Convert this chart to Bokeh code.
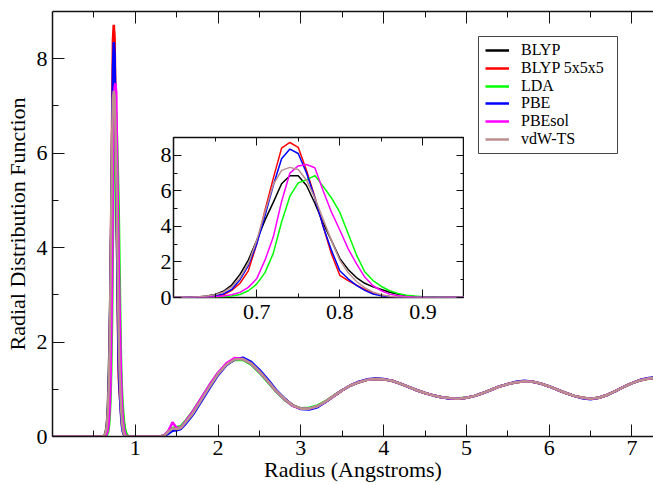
from bokeh.plotting import figure
from bokeh.models import (FixedTicker, LinearAxis, Legend, LegendItem, Range1d,
                          BoxAnnotation)
from bokeh.layouts import column
from bokeh.embed import file_html
from bokeh.resources import INLINE

FONT = "Liberation Serif"

series_names = ["BLYP", "BLYP 5x5x5", "LDA", "PBE", "PBEsol", "vdW-TS"]
series_colors = ["#000000", "#ff0000", "#00ff00", "#0000ff", "#ff00ff", "#bc8f8f"]

# first-peak region (shown in the inset and in the main plot)
peak_r = [0.60, 0.61, 0.62, 0.63, 0.64, 0.65, 0.66, 0.67, 0.68, 0.69,
          0.70, 0.71, 0.72, 0.73, 0.74, 0.75, 0.76, 0.77, 0.78, 0.79,
          0.80, 0.81, 0.82, 0.83, 0.84, 0.85, 0.86, 0.87, 0.88, 0.89,
          0.90, 0.91, 0.92, 0.93, 0.94, 0.95]
blyp_peak = [0, 0, 0.01, 0.03, 0.08, 0.17, 0.35, 0.70, 1.30, 2.10,
             3.20, 4.35, 5.35, 6.40, 6.85, 6.85, 6.30, 5.30, 4.20, 3.20,
             2.20, 1.58, 1.12, 0.80, 0.60, 0.45, 0.30, 0.18, 0.10, 0.05,
             0.02, 0.01, 0, 0, 0, 0]
blyp555_peak = [0, 0, 0, 0.01, 0.03, 0.07, 0.15, 0.40, 0.80, 1.50,
                3.00, 4.90, 6.70, 8.40, 8.72, 8.45, 7.15, 5.65, 4.00, 2.45,
                1.25, 0.95, 0.70, 0.45, 0.25, 0.12, 0.05, 0.02, 0.01, 0,
                0, 0, 0, 0, 0, 0]
lda_peak = [0, 0, 0, 0, 0.01, 0.02, 0.04, 0.08, 0.17, 0.38,
            0.75, 1.40, 2.48, 4.25, 5.70, 6.45, 6.62, 6.86, 6.25, 5.60,
            4.80, 3.60, 2.40, 1.45, 0.95, 0.62, 0.38, 0.23, 0.13, 0.08,
            0.04, 0.02, 0.01, 0, 0, 0]
pbe_peak = [0, 0, 0.01, 0.02, 0.05, 0.10, 0.20, 0.45, 1.00, 1.80,
            3.00, 4.60, 6.30, 7.80, 8.35, 8.10, 7.00, 5.60, 4.00, 2.65,
            1.50, 1.05, 0.68, 0.40, 0.20, 0.10, 0.05, 0.02, 0.01, 0,
            0, 0, 0, 0, 0, 0]
pbesol_peak = [0, 0, 0, 0.01, 0.02, 0.04, 0.08, 0.15, 0.29, 0.57,
               1.05, 2.10, 3.40, 5.40, 7.00, 7.40, 7.48, 7.30, 6.00, 4.80,
               3.80, 2.75, 1.90, 1.15, 0.66, 0.38, 0.19, 0.10, 0.05, 0.02,
               0.01, 0, 0, 0, 0, 0]
vdwts_peak = [0, 0.01, 0.02, 0.04, 0.08, 0.15, 0.30, 0.60, 1.10, 1.90,
              3.20, 4.80, 6.35, 7.15, 7.32, 7.20, 6.60, 5.60, 4.40, 3.20,
              2.10, 1.40, 0.90, 0.55, 0.30, 0.15, 0.07, 0.03, 0.01, 0,
              0, 0, 0, 0, 0, 0]

# longer-range part of the curves (main plot only)
tail_r = [1.0, 1.1, 1.2, 1.3, 1.35, 1.4, 1.45, 1.5, 1.55, 1.6,
          1.7, 1.8, 1.9, 2.0, 2.1, 2.2, 2.3, 2.4, 2.5, 2.6,
          2.7, 2.8, 2.9, 3.0, 3.1, 3.2, 3.3, 3.4, 3.5, 3.6,
          3.7, 3.8, 3.9, 4.0, 4.1, 4.2, 4.3, 4.4, 4.5, 4.6,
          4.7, 4.8, 4.9, 5.0, 5.1, 5.2, 5.3, 5.4, 5.5, 5.6,
          5.7, 5.8, 5.9, 6.0, 6.1, 6.2, 6.3, 6.4, 6.5, 6.6,
          6.7, 6.8, 6.9, 7.0, 7.1, 7.2, 7.3]
tail_common = [0, 0, 0, 0, 0.02, 0.10, 0.17, 0.16, 0.18, 0.28,
               0.50, 0.78, 1.06, 1.32, 1.52, 1.63, 1.64, 1.55, 1.38, 1.18,
               0.97, 0.80, 0.66, 0.59, 0.59, 0.64, 0.74, 0.86, 0.98, 1.08,
               1.15, 1.20, 1.22, 1.21, 1.18, 1.12, 1.05, 0.98, 0.92, 0.87,
               0.83, 0.81, 0.80, 0.82, 0.86, 0.92, 0.99, 1.06, 1.11, 1.15,
               1.17, 1.16, 1.12, 1.06, 0.99, 0.92, 0.86, 0.82, 0.80, 0.82,
               0.88, 0.96, 1.05, 1.13, 1.19, 1.23, 1.25]
tail_lda = [0, 0, 0, 0, 0.02, 0.10, 0.18, 0.20, 0.22, 0.32,
            0.55, 0.82, 1.10, 1.35, 1.53, 1.62, 1.62, 1.52, 1.35, 1.15,
            0.95, 0.78, 0.65, 0.60, 0.61, 0.66, 0.75, 0.87, 0.98, 1.08,
            1.15, 1.20, 1.22, 1.21, 1.18, 1.12, 1.05, 0.98, 0.92, 0.87,
            0.83, 0.81, 0.81, 0.82, 0.86, 0.92, 0.99, 1.06, 1.11, 1.15,
            1.17, 1.16, 1.12, 1.06, 0.99, 0.92, 0.86, 0.82, 0.80, 0.82,
            0.88, 0.96, 1.05, 1.13, 1.19, 1.23, 1.25]
tail_pbe = [0, 0, 0, 0, 0.01, 0.06, 0.12, 0.13, 0.16, 0.25,
            0.47, 0.75, 1.03, 1.30, 1.51, 1.63, 1.67, 1.58, 1.41, 1.21,
            0.99, 0.81, 0.66, 0.58, 0.57, 0.62, 0.73, 0.86, 0.98, 1.08,
            1.16, 1.21, 1.23, 1.22, 1.18, 1.12, 1.05, 0.98, 0.92, 0.87,
            0.83, 0.80, 0.80, 0.82, 0.86, 0.92, 0.99, 1.06, 1.11, 1.16,
            1.18, 1.16, 1.12, 1.06, 0.99, 0.92, 0.86, 0.81, 0.79, 0.82,
            0.88, 0.96, 1.05, 1.13, 1.20, 1.24, 1.26]
tail_pbesol = [0, 0, 0, 0, 0.03, 0.12, 0.30, 0.18, 0.19, 0.30,
               0.54, 0.82, 1.10, 1.35, 1.55, 1.66, 1.64, 1.54, 1.37, 1.17,
               0.96, 0.79, 0.65, 0.59, 0.59, 0.64, 0.74, 0.86, 0.98, 1.08,
               1.15, 1.20, 1.22, 1.21, 1.18, 1.12, 1.05, 0.98, 0.92, 0.87,
               0.83, 0.81, 0.80, 0.82, 0.86, 0.92, 0.99, 1.06, 1.11, 1.15,
               1.17, 1.16, 1.12, 1.06, 0.99, 0.92, 0.86, 0.82, 0.80, 0.82,
               0.88, 0.96, 1.05, 1.13, 1.19, 1.23, 1.25]

series_peaks = [blyp_peak, blyp555_peak, lda_peak, pbe_peak, pbesol_peak, vdwts_peak]
series_tails = [tail_common, tail_common, tail_lda, tail_pbe, tail_pbesol, tail_common]

main_xticks = [1, 2, 3, 4, 5, 6, 7]
main_xminor = [0.5, 1.5, 2.5, 3.5, 4.5, 5.5, 6.5]
main_yticks = [0, 2, 4, 6, 8]
main_yminor = [1, 3, 5, 7]
inset_xticks = [0.7, 0.8, 0.9]
inset_xminor = [0.65, 0.75, 0.85]
inset_yticks = [0, 2, 4, 6, 8]
inset_yminor = [1, 3, 5, 7]


def style_axis(ax, ticks, minor, major_len, minor_len, labels, font_size="22px",
               standoff=5, line=True):
    ax.ticker = FixedTicker(ticks=ticks, minor_ticks=minor)
    ax.major_tick_in = major_len
    ax.major_tick_out = 0
    ax.minor_tick_in = minor_len
    ax.minor_tick_out = 0
    ax.major_tick_line_color = "#111111"
    ax.minor_tick_line_color = "#111111"
    ax.major_tick_line_width = 1
    ax.minor_tick_line_width = 1
    if line:
        ax.axis_line_color = "#111111"
        ax.axis_line_width = 1.5
    else:
        ax.axis_line_color = None
    if labels:
        ax.major_label_text_font = FONT
        ax.major_label_text_font_size = font_size
        ax.major_label_text_color = "black"
        ax.major_label_standoff = standoff
    else:
        ax.major_label_text_color = None
        ax.major_label_text_font_size = "1px"
        ax.major_label_standoff = 0


# ---------------- main plot ----------------
p = figure(width=653, height=485, x_range=Range1d(0, 7.26), y_range=Range1d(0, 9),
           output_backend="svg", toolbar_location=None,
           min_border_left=52, min_border_right=0, min_border_top=11, min_border_bottom=49)
p.outline_line_color = None
p.grid.visible = False
p.background_fill_color = "white"
p.border_fill_color = "white"

style_axis(p.xaxis[0], main_xticks, main_xminor, 12, 6, True, standoff=4)
style_axis(p.yaxis[0], main_yticks, main_yminor, 12, 6, True, standoff=5)
p.xaxis[0].axis_label = "Radius (Angstroms)"
p.yaxis[0].axis_label = "Radial Distribution Function"
for ax in (p.xaxis[0], p.yaxis[0]):
    ax.axis_label_text_font = FONT
    ax.axis_label_text_font_size = "22px"
    ax.axis_label_text_font_style = "normal"
    ax.axis_label_text_color = "black"
p.xaxis[0].axis_label_standoff = -1
p.yaxis[0].axis_label_standoff = 4

top_ax = LinearAxis()
style_axis(top_ax, main_xticks, main_xminor, 12, 6, False)
p.add_layout(top_ax, "above")

renderers = []
for name, color, pk, tl in zip(series_names, series_colors, series_peaks, series_tails):
    xs = [0.0] + peak_r + tail_r
    ys = [0.0] + pk + tl
    renderers.append(p.line(xs, ys, line_color=color, line_width=2.5))

# legend frame (screen units, relative to the plot frame)
legend_box = BoxAnnotation(left=426, right=565, bottom=283, top=400,
                           left_units="screen", right_units="screen",
                           bottom_units="screen", top_units="screen",
                           fill_color="white", fill_alpha=1,
                           line_color="#444444", line_width=1, line_alpha=1)
p.add_layout(legend_box)

# one legend row per series
ROW_PITCH = 17.8
for i, (name, r) in enumerate(zip(series_names, renderers)):
    lg = Legend(items=[LegendItem(label=name, renderers=[r])],
                location=(433, round(377 - ROW_PITCH * i)))
    lg.label_text_font = FONT
    lg.label_text_font_size = "16px"
    lg.label_text_color = "black"
    lg.glyph_width = 24
    lg.glyph_height = 16
    lg.label_height = 16
    lg.label_standoff = 12
    lg.spacing = 0
    lg.padding = 0
    lg.margin = 0
    lg.border_line_color = None
    lg.background_fill_alpha = 0
    p.add_layout(lg)

# ---------------- inset ----------------
inset = figure(frame_width=291, frame_height=160, x_range=Range1d(0.6, 0.95),
               y_range=Range1d(0, 9), output_backend="svg", toolbar_location=None,
               min_border_left=52, min_border_right=0, min_border_top=8,
               min_border_bottom=34)
inset.grid.visible = False
inset.outline_line_color = "#111111"
inset.outline_line_width = 1.5
inset.background_fill_color = "white"
inset.border_fill_alpha = 0
style_axis(inset.xaxis[0], inset_xticks, inset_xminor, 8, 4, True, standoff=7, line=False)
style_axis(inset.yaxis[0], inset_yticks, inset_yminor, 8, 4, True, standoff=2, line=False)
in_top = LinearAxis()
style_axis(in_top, inset_xticks, inset_xminor, 8, 4, False, line=False)
inset.add_layout(in_top, "above")
in_right = LinearAxis()
style_axis(in_right, inset_yticks, inset_yminor, 8, 4, False, line=False)
inset.add_layout(in_right, "right")

for color, pk in zip(series_colors, series_peaks):
    inset.line(peak_r, pk, line_color=color, line_width=1.5)

inset.styles = {"position": "absolute", "left": "121px", "top": "129px"}

layout = column(p, inset)
open("out.html", "w").write(file_html(layout, INLINE))
